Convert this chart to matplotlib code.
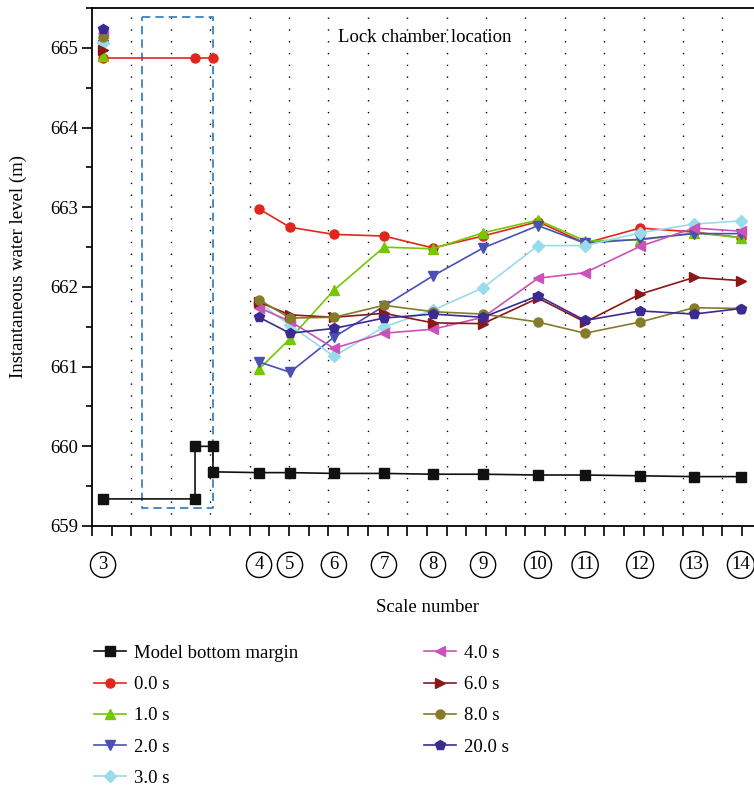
import numpy as np
import matplotlib
matplotlib.use("Agg")
import matplotlib.pyplot as plt
from matplotlib.ticker import MultipleLocator

plt.rcParams['font.family'] = ['Liberation Serif', 'DejaVu Serif']

# x positions along the model (axis units), scale numbers at the gauges
x_pos = [0.56, 5.23, 6.14, 8.48, 10.05, 12.28, 14.82, 17.31, 19.85, 22.64, 25.03, 27.82, 30.56, 32.94]
scale_x = [0.56, 8.48, 10.05, 12.28, 14.82, 17.31, 19.85, 22.64, 25.03, 27.82, 30.56, 32.94]
scale_labels = ['3', '4', '5', '6', '7', '8', '9', '10', '11', '12', '13', '14']

# model bottom (step at the lock chamber)
bottom_x = [0.56, 5.23, 5.23, 6.14, 6.14, 8.48, 10.05, 12.28, 14.82, 17.31, 19.85, 22.64, 25.03, 27.82, 30.56, 32.94]
bottom_y = [659.34, 659.34, 660.0, 660.0, 659.68, 659.67, 659.67, 659.66, 659.66, 659.65, 659.65, 659.64,
            659.64, 659.63, 659.62, 659.62]

nan = np.nan
s00 = [664.87, 664.87, 664.87, 662.98, 662.75, 662.66, 662.64, 662.49, 662.64, 662.82, 662.55, 662.74, 662.69, 662.62]
s10 = [664.90, nan, nan, 660.97, 661.35, 661.96, 662.50, 662.48, 662.68, 662.84, 662.58, 662.59, 662.68, 662.62]
s20 = [665.04, nan, nan, 661.06, 660.93, 661.37, 661.76, 662.14, 662.49, 662.77, 662.55, 662.60, 662.67, 662.67]
s30 = [665.06, nan, nan, 661.80, 661.52, 661.13, 661.50, 661.71, 661.99, 662.52, 662.52, 662.68, 662.79, 662.83]
s40 = [665.19, nan, nan, 661.74, 661.57, 661.23, 661.42, 661.47, 661.62, 662.11, 662.18, 662.51, 662.74, 662.70]
s60 = [664.97, nan, nan, 661.81, 661.65, 661.62, 661.67, 661.55, 661.54, 661.86, 661.56, 661.91, 662.12, 662.08]
s80 = [665.14, nan, nan, 661.84, 661.61, 661.62, 661.77, 661.69, 661.66, 661.56, 661.42, 661.56, 661.74, 661.73]
s200 = [665.24, nan, nan, 661.62, 661.42, 661.48, 661.61, 661.66, 661.62, 661.89, 661.58, 661.70, 661.66, 661.73]

series = [
    ('0.0 s', s00, '#e2261d', 'o'),
    ('1.0 s', s10, '#74c800', '^'),
    ('2.0 s', s20, '#4a50b4', 'v'),
    ('3.0 s', s30, '#97dcea', 'D'),
    ('4.0 s', s40, '#cb52b8', '<'),
    ('6.0 s', s60, '#8a1818', '>'),
    ('8.0 s', s80, '#847c28', 'o'),
    ('20.0 s', s200, '#3a2a92', 'p'),
]

FS = 13.5

fig = plt.figure(figsize=(7.54, 7.88), dpi=100)
ax = fig.add_axes([92/754, 1-526/788, 1-92/754, 518/788])

# dotted vertical guides
for gx in range(2, 34, 2):
    ax.axvline(gx, color='black', lw=1.0, ls=(0, (1, 7.5)), zorder=0)

# lock chamber box
ax.plot([2.54, 6.14, 6.14, 2.54, 2.54], [665.39, 665.39, 659.23, 659.23, 665.39],
        color='#2b78b8', ls=(0, (5, 3)), lw=1.2, zorder=1)
ax.text(16.9, 665.13, 'Lock chamber location', ha='center', va='center', fontsize=FS)

handles = []
h, = ax.plot(bottom_x, bottom_y, color='#111111', marker='s', ms=6.5, lw=1.2, label='Model bottom margin', zorder=3)
handles.append(h)
for name, vals, col, mk in series:
    ms = 7.5 if mk in ('^', 'v', '<', '>', 'p') else 6.5
    # upstream gauge / lock chamber part and downstream part are drawn separately
    h, = ax.plot(x_pos[:3], vals[:3], color=col, marker=mk, ms=ms, lw=1.2, label=name, zorder=3)
    ax.plot(x_pos[3:], vals[3:], color=col, marker=mk, ms=ms, lw=1.2, zorder=3)
    handles.append(h)

ax.set_xlim(0, (754-92)/19.7)
ax.set_ylim(659, 665 + 40/79.67)
ax.xaxis.set_major_locator(MultipleLocator(1))
ax.yaxis.set_major_locator(MultipleLocator(1))
ax.yaxis.set_minor_locator(MultipleLocator(0.5))
ax.set_xticklabels([])
ax.tick_params(axis='x', length=7, width=1.2)
ax.tick_params(axis='y', which='major', length=7, width=1.2, labelsize=FS, pad=3)
ax.tick_params(axis='y', which='minor', length=4, width=1.2)
ax.spines['right'].set_visible(False)
for s in ['left', 'bottom', 'top']:
    ax.spines[s].set_linewidth(1.3)

# circled scale numbers
tr = ax.get_xaxis_transform()
for sx, lab in zip(scale_x, scale_labels):
    ax.text(sx, -0.075, lab, transform=tr, ha='center', va='center', fontsize=FS, clip_on=False,
            bbox=dict(boxstyle='circle,pad=0.22', fc='white', ec='black', lw=1.0))

fig.text(427/754, 1-607/788, 'Scale number', ha='center', va='center', fontsize=FS)
fig.text(18/754, 1-267/788, 'Instantaneous water level (m)', ha='center', va='center',
         rotation=90, fontsize=FS)

fig.legend(handles=handles, loc='upper left', bbox_to_anchor=(77/754, 1-628/788), ncol=2,
           frameon=False, fontsize=FS, handlelength=1.7, handletextpad=0.43,
           columnspacing=6.7, labelspacing=0.75)

fig.savefig('out.png', dpi=100)
